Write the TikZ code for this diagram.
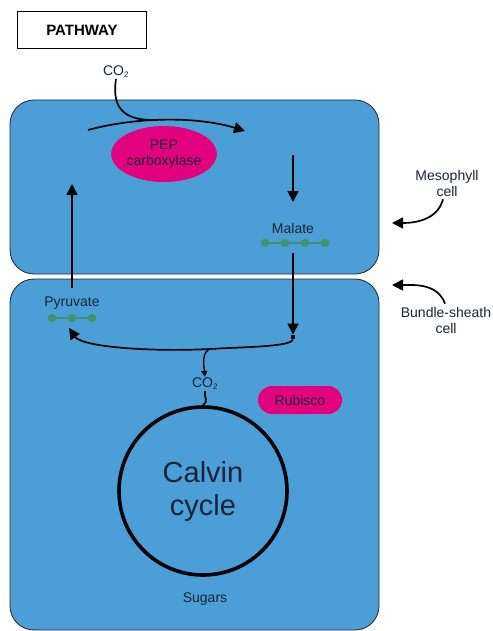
\documentclass[tikz,border=0pt]{standalone}
\usepackage{fontspec}
\setmainfont{Liberation Sans}
\definecolor{CellColor}{RGB}{76,158,214}
\definecolor{EnzymeColor}{RGB}{226,0,126}
\definecolor{TextColor}{RGB}{22,36,56}
\definecolor{ChainColor}{RGB}{64,146,112}
\usetikzlibrary{arrows.meta, positioning, shapes.geometric}
\tikzstyle{arrow} = [line width=1.7pt, black, -{Triangle[length=11pt, width=11pt]}]
\tikzstyle{smallarrow} = [line width=1.3pt, black, -{Triangle[length=6pt, width=6pt]}]
\tikzstyle{cell} = [draw=black!85, line width=0.8pt, fill=CellColor, rounded corners=24pt]
\tikzstyle{txt} = [text=TextColor, font=\fontsize{14}{16}\selectfont, align=center, inner sep=1pt]
\tikzstyle{atom} = [circle, fill=ChainColor, inner sep=0pt, minimum size=8.5pt]
\tikzstyle{enzyme} = [fill=EnzymeColor, text=TextColor, font=\fontsize{14}{16}\selectfont, align=center]

\begin{document}
\begin{tikzpicture}[x=1pt, y=-1pt]
\useasboundingbox (0,0) rectangle (492,631);

% title
\node[draw, line width=1.4pt, minimum width=129pt, minimum height=37pt,
  font=\bfseries\fontsize{15}{17}\selectfont] (title) at (82,30) {PATHWAY};

% the two cells
\draw[cell] (10,100) rectangle (379,274);
\draw[cell] (10,279) rectangle (379,630);

% mesophyll cell
\node[enzyme, ellipse, minimum width=92pt, minimum height=56pt, inner sep=0pt] (pep) at (164,154) {PEP\\carboxylase};
\node[txt] (co2top) at (116,72) {CO\textsubscript{\fontsize{8}{9}\selectfont 2}};
\coordinate (fixin) at (88,130);
\coordinate (fixout) at (245,131);
\draw[arrow] (fixin) .. controls (140,116) and (200,117) .. (fixout);
\draw[line width=1.7pt] (co2top.south) .. controls (111,112) and (128,121) .. (158,120);

\coordinate (malin) at (293,155);
\coordinate (malend) at (293,202);
\node[txt] (malate) at (293,228) {Malate};
\foreach \i in {1,...,4}
  \node[atom] (m\i) at (245+20*\i,243) {};
\draw[ChainColor, line width=2pt] (m1) -- (m4);
\draw[arrow] (malin) -- (malend);

\node[txt] (pyruvate) at (72,303) {Pyruvate};
\foreach \i in {1,...,3}
  \node[atom] (p\i) at (32+20*\i,318) {};
\draw[ChainColor, line width=2pt] (p1) -- (p3);
\coordinate (pyrout) at (72,288);
\coordinate (pyrend) at (72,184);
\draw[arrow] (pyrout) -- (pyrend);

% bundle-sheath cell
\node[fill=black, inner sep=0pt, minimum size=4.5pt] (junction) at (293,337) {};
\coordinate (malout) at (293,253);
\draw[arrow] (malout) -- (junction.north);
\coordinate (split) at (210,349);
\draw[arrow] (junction) .. controls (292,347) and (240,347) .. (split)
  .. controls (150,352) and (82,347) .. (69,328);

\node[txt] (co2low) at (205,384) {CO\textsubscript{\fontsize{8}{9}\selectfont 2}};
\draw[smallarrow] (split) .. controls (203,352) and (203,360) .. (co2low.north);

\node[circle, draw, line width=3.6pt, minimum size=168pt, text=TextColor,
  font=\fontsize{29}{33}\selectfont, align=center] (calvin) at (203,491) {Calvin\\cycle};
\draw[line width=1.7pt] (co2low.south) .. controls (204,399) and (209,400) .. (calvin.north);

\node[enzyme, rounded corners=14pt, minimum width=84pt, minimum height=28pt] (rubisco) at (300,400) {Rubisco};
\node[txt] (sugars) at (205,599) {Sugars};

% cell labels
\node[txt] (meso) at (447,183) {Mesophyll\\cell};
\coordinate (mesotip) at (392,223);
\draw[arrow] (meso.south) ++(-4,2) to[out=-105, in=0] (mesotip);

\node[txt] (bundle) at (446,320) {Bundle-sheath\\cell};
\coordinate (bundletip) at (392,285);
\draw[arrow] (bundle.north) ++(-1,-2) to[out=110, in=0] (bundletip);
\end{tikzpicture}
\end{document}
